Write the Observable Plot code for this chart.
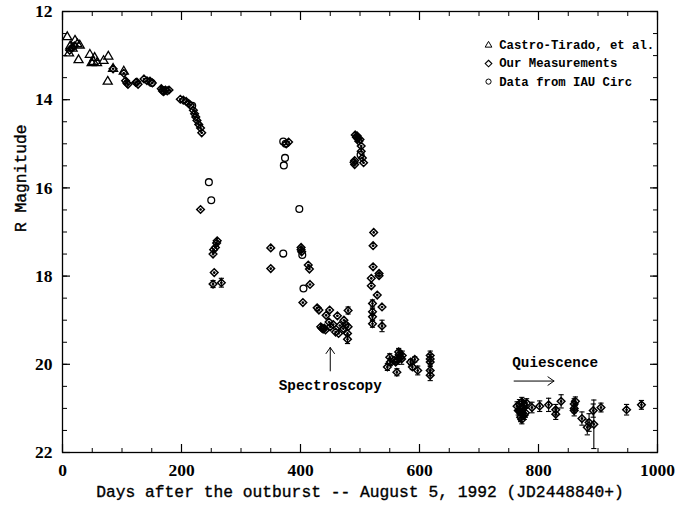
<!DOCTYPE html>
<html><head><meta charset="utf-8">
<script src="https://cdn.jsdelivr.net/npm/d3@7"></script>
<script src="https://cdn.jsdelivr.net/npm/@observablehq/plot@0.6"></script>
<style>body{margin:0;background:#fff}svg{display:block}</style>
</head><body><div id="chart"></div>
<script>
// Castro-Tirado, et al. (triangles)
const triDays = [8,21,13,25,29,11,17,27,46,54,49,58,52,69,77,85,76,103];
const triMags = [12.56,12.64,12.77,12.72,12.75,12.93,12.82,13.08,12.96,13.03,13.15,13.15,13.12,13.10,13.00,13.28,13.57,13.34];

// Our Measurements (diamonds), err 0 = no error bar
const ourDays = [12,16,20,
  85,103,106,108,110,123,125,127,137,142,147,151,166,168,170,173,176,179,
  198,203,208,212,215,220,222,224,226,229,232,234,
  232,260,259,257,254,253,255,253,267,
  350,350,376,380,
  401,401,402,413,415,416,404,428,431,449,480,443,462,473,476,
  434,436,438,440,442,448,450,459,464,472,479,479,480,466,455,
  492,494,495,496,498,500,502,502,491,491,504,506,490,
  523,522,522,519,519,532,532,529,537,521,521,521,521,537,
  546,551,550,557,562,565,568,571,563,566,570,560,
  585,592,588,597,618,618,618,618,618,
  764,766,768,770,772,774,770,776,772,768,775,778,780,
  789,802,817,829,829,838,860,860,860,862,873,882,885,892,893,905,948,973];
const ourMags = [12.88,12.82,12.78,
  13.30,13.40,13.57,13.62,13.65,13.61,13.60,13.65,13.53,13.57,13.58,13.62,13.75,13.80,13.82,13.78,13.80,13.78,
  13.99,14.01,14.04,14.09,14.12,14.24,14.32,14.39,14.47,14.56,14.64,14.75,
  16.49,17.20,17.25,17.35,17.40,17.50,17.92,18.18,18.15,
  17.36,17.83,15.00,14.96,
  17.35,17.40,17.45,17.75,17.84,18.19,18.60,18.72,18.77,18.77,18.78,18.89,18.90,19.00,19.10,
  19.15,19.18,19.20,19.18,19.22,19.04,19.15,19.27,19.30,19.19,19.30,19.43,19.15,19.12,19.10,
  14.80,14.85,14.82,14.88,14.94,14.90,15.05,15.17,15.38,15.47,15.32,15.43,15.42,
  17.01,17.31,17.79,18.05,18.22,17.94,17.99,18.43,18.70,18.62,18.81,18.92,19.08,19.13,
  20.06,19.95,19.84,19.91,20.18,19.72,19.84,19.80,19.90,19.78,19.88,19.95,
  19.95,19.89,20.06,20.14,19.80,19.95,20.14,20.25,19.88,
  20.95,21.05,20.90,21.10,20.85,21.00,21.20,21.15,21.25,21.05,20.92,21.10,20.88,
  20.98,20.95,20.92,21.03,21.13,20.84,20.90,21.00,21.05,20.84,21.23,21.43,21.32,21.05,21.36,20.98,21.03,20.92];
const ourErrs = [0,0,0,
  0,0,0,0,0,0,0,0,0,0,0,0,0,0,0,0,0,0,
  0,0,0,0,0,0,0,0,0,0,0,0,
  0,0,0,0,0,0,0,0.08,0.10,
  0,0,0,0,
  0,0,0,0,0,0,0,0,0,0,0.08,0,0,0,0,
  0,0,0,0,0,0,0,0,0,0,0,0.10,0,0,0,
  0,0,0,0,0,0,0,0,0,0,0,0,0,
  0,0,0,0,0,0,0,0,0,0.08,0.08,0.08,0.08,0.13,
  0.08,0.08,0.08,0.08,0.08,0.08,0.10,0.10,0.10,0.10,0.12,0,
  0.06,0.06,0.06,0.10,0.10,0.10,0.12,0.12,0.10,
  0.10,0.10,0.10,0.10,0.10,0.10,0.10,0.10,0.10,0.10,0.10,0.10,0.10,
  0.12,0.12,0.15,0.12,0.12,0.15,0.12,0.10,0.12,0.10,0.15,0.17,0.20,0.15,0.55,0.10,0.12,0.10];

// Data from IAU Circ (circles)
const iauDays = [150,169,218,246,250,371,375,374,372,371,398,403,405,501];
const iauMags = [13.62,13.78,14.14,15.87,16.28,14.95,15.00,15.32,15.49,17.49,16.48,17.52,18.28,15.25];

// Axis ticks
const xTicks = [0,200,400,600,800,1000];
const xMinorTicks = d3.range(0, 1001, 50);
const yTicks = [12,14,16,18,20,22];
const yMinorTicks = d3.range(12, 22.01, 0.5);

// Legend
const legendLabels = ["Castro-Tirado, et al.","Our Measurements","Data from IAU Circ"];
const legendMags = [12.75,13.18,13.59];
const legendSymDay = 716, legendTextDay = 734;

// Annotations
const noteTexts = ["Spectroscopy","Quiescence"];
const noteDays = [450,828];
const noteMags = [20.47,19.95];
const arrowX1 = [450,759], arrowY1 = [20.15,20.38];
const arrowX2 = [450,826], arrowY2 = [19.62,20.38];

const tri = triDays.map((d,i)=>({day:d, mag:triMags[i]}));
const our = ourDays.map((d,i)=>({day:d, mag:ourMags[i], err:ourErrs[i]}));
const ourErr = our.filter(d=>d.err>0);
const iau = iauDays.map((d,i)=>({day:d, mag:iauMags[i]}));

const diamondPlus = {draw(ctx, size){const r=Math.sqrt(size/Math.PI); ctx.moveTo(0,-r); ctx.lineTo(r,0); ctx.lineTo(0,r); ctx.lineTo(-r,0); ctx.closePath(); const c=r*0.35; ctx.moveTo(-c,0); ctx.lineTo(c,0); ctx.moveTo(0,-c); ctx.lineTo(0,c);}};
const diamondOpen = {draw(ctx, size){const r=Math.sqrt(size/Math.PI); ctx.moveTo(0,-r); ctx.lineTo(r,0); ctx.lineTo(0,r); ctx.lineTo(-r,0); ctx.closePath();}};
const triSym = {draw(ctx, size){const r=Math.sqrt(size/Math.PI); ctx.moveTo(0,-r); ctx.lineTo(r*1.05,r*0.8); ctx.lineTo(-r*1.05,r*0.8); ctx.closePath();}};
const hline = {draw(ctx, size){const r=Math.sqrt(size/Math.PI); ctx.moveTo(-r,0); ctx.lineTo(r,0);}};

const mono = "'Liberation Mono', 'DejaVu Sans Mono', monospace";
const serif = "'Liberation Serif', 'DejaVu Serif', serif";

const chart = Plot.plot({
  width: 684, height: 506,
  marginLeft: 62, marginRight: 27, marginTop: 11, marginBottom: 54,
  x: {domain: [0, 1000], axis: null},
  y: {domain: [22, 12], axis: null},
  style: {background: "#fff", color: "#000"},
  marks: [
    Plot.frame({stroke: "#000", strokeWidth: 1.3}),
    Plot.axisX(xMinorTicks, {anchor: "bottom", tickSize: -4, text: null, label: null, strokeWidth: 1}),
    Plot.axisX(xTicks, {anchor: "bottom", tickSize: -8, text: null, label: null, strokeWidth: 1.2}),
    Plot.axisX(xMinorTicks, {anchor: "top", tickSize: -4, text: null, label: null, strokeWidth: 1}),
    Plot.axisX(xTicks, {anchor: "top", tickSize: -8, text: null, label: null, strokeWidth: 1.2}),
    Plot.axisY(yMinorTicks, {anchor: "left", tickSize: -5, text: null, label: null, strokeWidth: 1}),
    Plot.axisY(yTicks, {anchor: "left", tickSize: -8, text: null, label: null, strokeWidth: 1.2}),
    Plot.axisY(yMinorTicks, {anchor: "right", tickSize: -5, text: null, label: null, strokeWidth: 1}),
    Plot.axisY(yTicks, {anchor: "right", tickSize: -8, text: null, label: null, strokeWidth: 1.2}),
    Plot.text(xTicks, {x: d => d, frameAnchor: "bottom", dy: 23, text: d => String(d), fontFamily: serif, fontSize: 17.5, fontWeight: "bold", fill: "#000"}),
    Plot.text(yTicks, {y: d => d, frameAnchor: "left", dx: -10, textAnchor: "end", text: d => String(d), fontFamily: serif, fontSize: 17.5, fontWeight: "bold", fill: "#000"}),
    Plot.text(["Days after the outburst -- August 5, 1992 (JD2448840+)"], {frameAnchor: "bottom", dy: 44, fontFamily: mono, fontSize: 16.3, fill: "#000", stroke: "#000", strokeWidth: 0.35}),
    Plot.text(["R Magnitude"], {frameAnchor: "left", dx: -42, rotate: -90, fontFamily: mono, fontSize: 16.3, fill: "#000", stroke: "#000", strokeWidth: 0.35}),
    // error bars
    Plot.ruleX(ourErr, {x: "day", y1: d => d.mag - d.err, y2: d => d.mag + d.err, stroke: "#000", strokeWidth: 1.1}),
    Plot.dot(ourErr, {x: "day", y: d => d.mag - d.err, symbol: hline, r: 2.6, stroke: "#000", strokeWidth: 1.1}),
    Plot.dot(ourErr, {x: "day", y: d => d.mag + d.err, symbol: hline, r: 2.6, stroke: "#000", strokeWidth: 1.1}),
    // data
    Plot.dot(tri, {x: "day", y: "mag", symbol: triSym, r: 4.3, stroke: "#000", fill: "none", strokeWidth: 1.3}),
    Plot.dot(our, {x: "day", y: "mag", symbol: diamondPlus, r: 3.8, stroke: "#000", fill: "none", strokeWidth: 1.5}),
    Plot.dot(iau, {x: "day", y: "mag", symbol: "circle", r: 3.4, stroke: "#000", fill: "none", strokeWidth: 1.3}),
    // legend
    Plot.dot([0], {x: legendSymDay, y: legendMags[0], symbol: triSym, r: 3.2, stroke: "#000", fill: "none", strokeWidth: 1}),
    Plot.dot([0], {x: legendSymDay, y: legendMags[1], symbol: diamondOpen, r: 3.3, stroke: "#000", fill: "none", strokeWidth: 1.1}),
    Plot.dot([0], {x: legendSymDay, y: legendMags[2], symbol: "circle", r: 2.6, stroke: "#000", fill: "none", strokeWidth: 1}),
    Plot.text(legendLabels, {x: legendTextDay, y: (d, i) => legendMags[i], text: d => d, textAnchor: "start", fontFamily: mono, fontSize: 12.3, fontWeight: "bold", fill: "#000"}),
    // annotations
    Plot.text(noteTexts, {x: (d, i) => noteDays[i], y: (d, i) => noteMags[i], text: d => d, fontFamily: mono, fontSize: 14.3, fontWeight: "bold", fill: "#000"}),
    Plot.arrow(noteTexts, {x1: (d, i) => arrowX1[i], y1: (d, i) => arrowY1[i], x2: (d, i) => arrowX2[i], y2: (d, i) => arrowY2[i], stroke: "#000", strokeWidth: 1, headLength: 11, headAngle: 70})
  ]
});
document.getElementById("chart").appendChild(chart);
</script>
</body></html>
